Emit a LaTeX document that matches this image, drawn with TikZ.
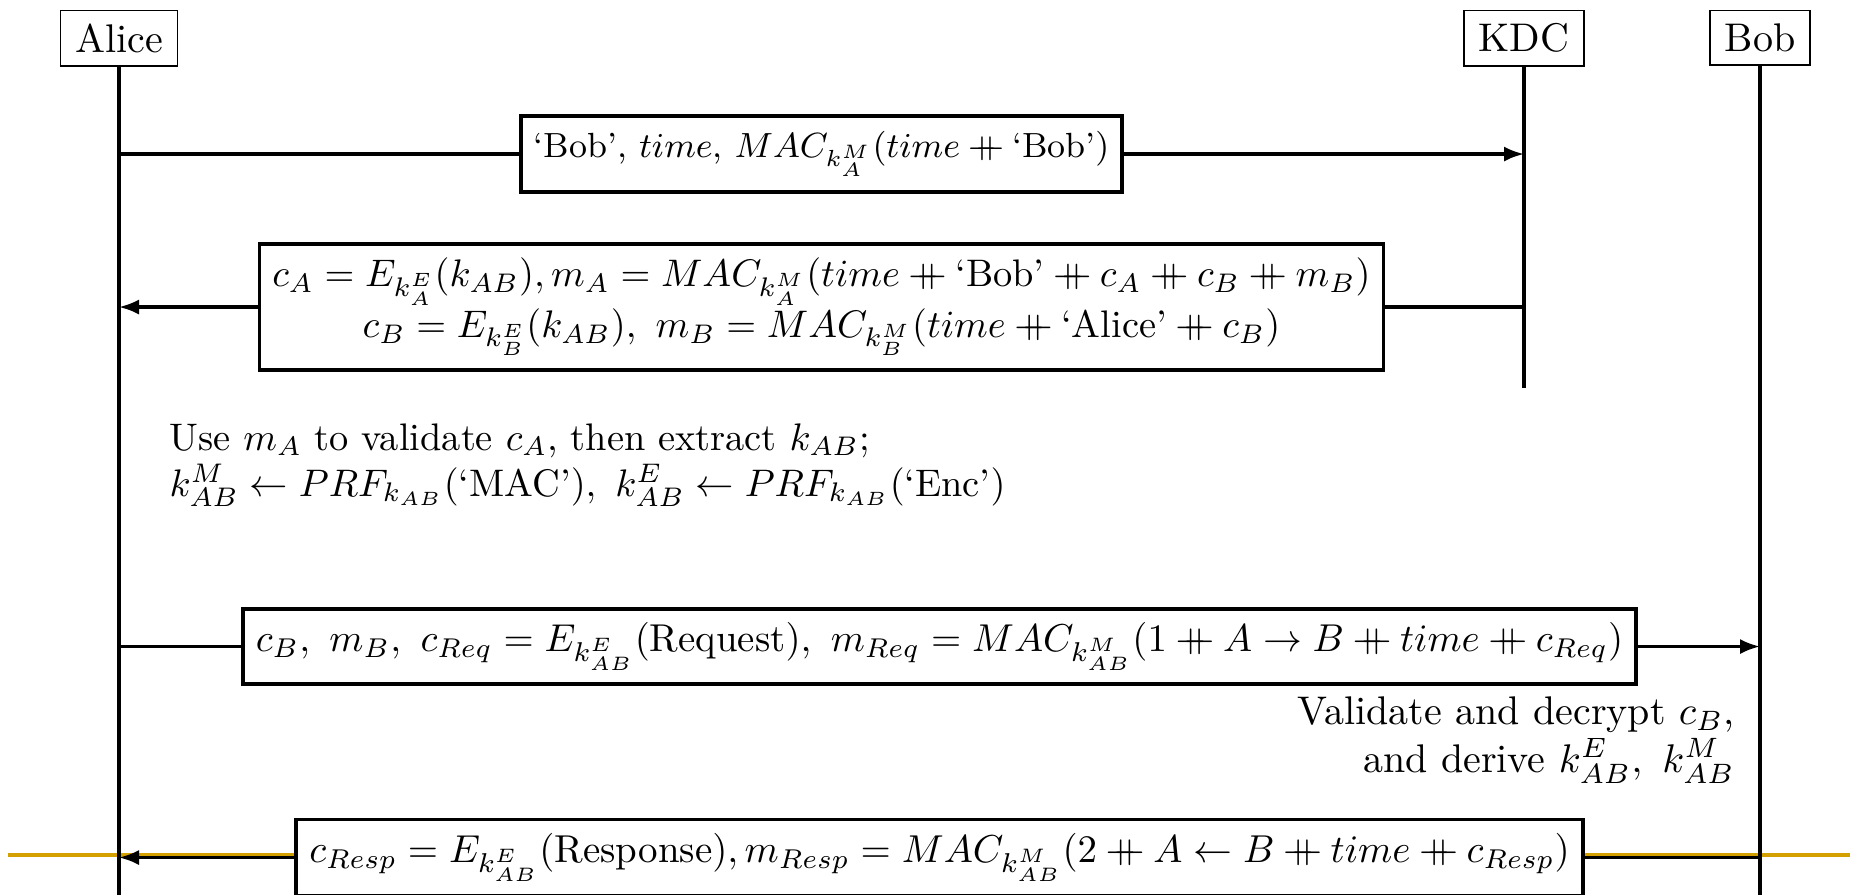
\RequirePackage{fix-cm}
\documentclass[tikz,border=0pt]{standalone}
\usepackage{amsmath}
\usetikzlibrary{arrows.meta}
\newcommand{\concat}{\mathbin{+\mkern-10mu+}}
\definecolor{slidegold}{RGB}{212,160,0}
\begin{document}
\begin{tikzpicture}[x=0.25pt,y=-0.25pt,
  actor/.style={draw,line width=0.4pt,inner xsep=3.7pt,inner ysep=3.33pt,anchor=north},
  msgbox/.style={draw,line width=0.9pt,fill=white,align=center,inner xsep=3.33pt,inner ysep=3.6pt,transform shape},
  lifeline/.style={line width=0.8pt},
  msgline/.style={line width=0.8pt},
  msgarrow/.style={line width=0.8pt,-{Latex[length=5pt,width=3.8pt]}},
  goldline/.style={slidegold,line width=1pt}]
\useasboundingbox (0,0) rectangle (1853,894);
\clip (0,0) rectangle (1853,894);
% slide rule
\coordinate (goldL) at (8,855);
\coordinate (goldR) at (1850,855);
\draw[goldline] (goldL) -- (goldR);
% actors
\node[actor] (alice) at (119,9.5) {Alice};
\node[actor] (kdc) at (1524,9.5) {KDC};
\node[actor] (bob) at (1760,9.5) {Bob};
\coordinate (aliceEnd) at (119,910);
\coordinate (kdcEnd) at (1524,388);
\coordinate (bobEnd) at (1760,910);
\draw[lifeline] (alice.south) -- (aliceEnd);
\draw[lifeline] (kdc.south) -- (kdcEnd);
\draw[lifeline] (bob.south) -- (bobEnd);
% message 1
\node[msgbox,font=\fontsize{9}{11}\selectfont,inner ysep=4pt,scale=0.971] (m1) at (821.5,154) {`Bob', $time$, $MAC_{k_A^M}(time \concat \text{`Bob'})$};
\draw[msgline] (alice.south |- m1.west) -- (m1.west);
\draw[msgarrow] (m1.east) -- (kdc.south |- m1.east);
% message 2
\node[msgbox,scale=0.96] (m2) at (821.5,307) {$c_A = E_{k_A^E}(k_{AB}), m_A = MAC_{k_A^M}(time \concat \text{`Bob'} \concat c_A \concat c_B \concat m_B)$\\
$c_B = E_{k_B^E}(k_{AB}),\ m_B = MAC_{k_B^M}(time \concat \text{`Alice'} \concat c_B)$};
\draw[msgline] (kdc.south |- m2.east) -- (m2.east);
\draw[msgarrow] (m2.west) -- (alice.south |- m2.west);
% note 1
\node[align=left,anchor=west,scale=0.96,transform shape] (n1) at (156,465) {Use $m_A$ to validate $c_A$, then extract $k_{AB}$;\\
$k^M_{AB} \leftarrow PRF_{k_{AB}}(\text{`MAC'}),\ k^E_{AB} \leftarrow PRF_{k_{AB}}(\text{`Enc'})$};
% message 3
\node[msgbox,scale=0.971] (m3) at (939.5,646.5) {$c_B,\ m_B,\ c_{Req} = E_{k^E_{AB}}(\text{Request}),\ m_{Req} = MAC_{k^M_{AB}}(1 \concat A \rightarrow B \concat time \concat c_{Req})$};
\draw[msgline] (alice.south |- m3.west) -- (m3.west);
\draw[msgarrow] (m3.east) -- (bob.south |- m3.east);
% note 2
\node[align=right,anchor=east] (n2) at (1749,740) {Validate and decrypt $c_B$,\\
and derive $k^E_{AB},\ k^M_{AB}$};
% message 4
\node[msgbox,scale=0.973] (m4) at (939.5,857.5) {$c_{Resp} = E_{k^E_{AB}}(\text{Response}), m_{Resp} = MAC_{k^M_{AB}}(2 \concat A \leftarrow B \concat time \concat c_{Resp})$};
\draw[msgline] (bob.south |- m4.east) -- (m4.east);
\draw[msgarrow] (m4.west) -- (alice.south |- m4.west);
\end{tikzpicture}
\end{document}
